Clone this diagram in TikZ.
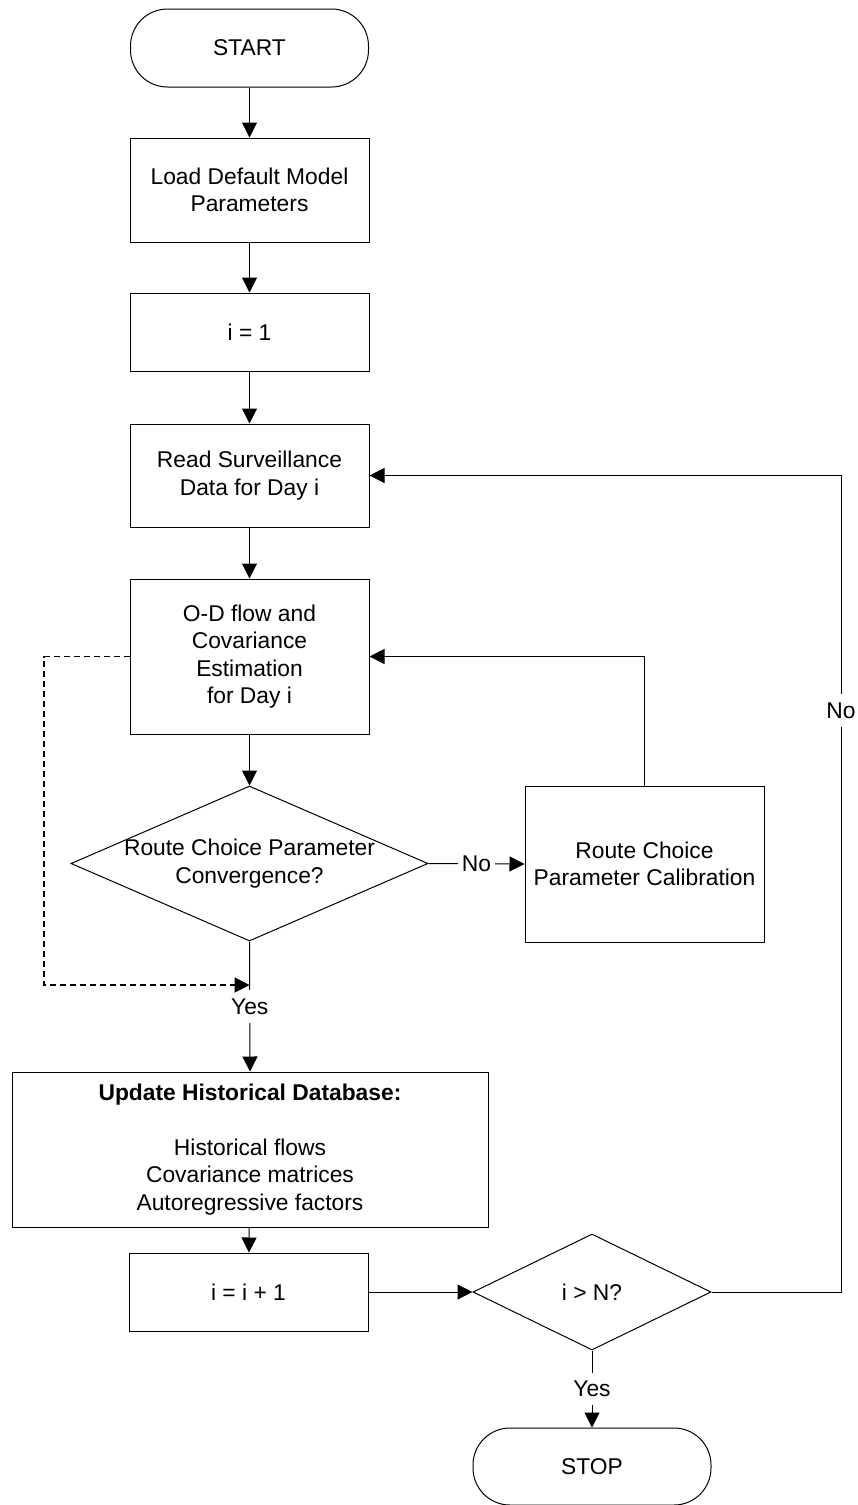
\documentclass[tikz,border=0pt]{standalone}
\usepackage{fontspec}
\setmainfont{Liberation Sans}
\usetikzlibrary{shapes.geometric,arrows.meta}
\begin{document}
\begin{tikzpicture}[x=1pt,y=-1pt,
  every node/.style={font=\fontsize{22.8}{27.5}\selectfont},
  box/.style={draw, line width=1pt, inner sep=0pt, align=center, minimum width=239pt},
  term/.style={draw, line width=1pt, rounded corners=37pt, inner sep=0pt, minimum width=238pt, minimum height=78pt},
  dec/.style={diamond, draw, line width=1pt, inner sep=0pt},
  arr/.style={-{Triangle[length=15pt,width=15pt]}, line width=1pt},
  lbl/.style={fill=white, inner xsep=4pt, inner ysep=8.5pt}]
\useasboundingbox (0,0) rectangle (858,1505);
% nodes
\node[term] (start) at (249.5,48) {START};
\node[box, minimum height=104pt] (load) at (249.5,190) {Load Default Model\\Parameters};
\node[box, minimum height=78pt] (i1) at (249.5,332) {i = 1};
\node[box, minimum height=103pt] (read) at (249.5,475.5) {Read Surveillance\\Data for Day i};
\node[box, minimum height=155pt] (od) at (249.5,656.5) {O-D flow and\\Covariance\\Estimation\\for Day i};
\node[dec, minimum width=357pt, minimum height=155pt] (d1) at (249.5,863.5) {};
\node[align=center] (d1t) at (d1.center) {Route Choice Parameter\\Convergence?};
\node[box, minimum height=156pt] (calib) at (644.5,864) {Route Choice\\Parameter Calibration};
\node[box, minimum width=476pt, minimum height=155pt] (upd) at (250,1149.5)
  {\textbf{Update Historical Database:}\\[27.5pt]Historical flows\\Covariance matrices\\Autoregressive factors};
\node[box, minimum height=78pt] (ipp) at (248.5,1292) {i = i + 1};
\node[dec, minimum width=238pt, minimum height=116pt] (d2) at (592,1292) {};
\node (d2t) at (d2.center) {i > N?};
\node[term, minimum height=77pt] (stop) at (592,1466.5) {STOP};
% helper coordinates
\coordinate (rc) at (841,1292);
\coordinate (dl) at (44,656.5);
\coordinate (yj) at (249.5,985);
% connectors
\draw[arr] (start) -- (load);
\draw[arr] (load) -- (i1);
\draw[arr] (i1) -- (read);
\draw[arr] (read) -- (od);
\draw[arr] (od) -- (d1);
\draw[arr] (d1.east) -- node[lbl]{No} (calib.west);
\draw[arr] (calib.north) |- (od.east);
\draw[arr] (d1.south) -- node[lbl]{Yes} (upd.north);
\draw[arr, dash pattern=on 6pt off 4pt, line width=1.8pt] (od.west) -- (dl) |- (yj);
\draw[arr] (upd) -- (ipp);
\draw[arr] (ipp.east) -- (d2.west);
\draw[arr] (d2.east) -- (rc) -- node[lbl, pos=0.712]{No} (rc |- read.east) -- (read.east);
\draw[arr] (d2.south) -- node[lbl]{Yes} (stop.north);
\end{tikzpicture}
\end{document}
